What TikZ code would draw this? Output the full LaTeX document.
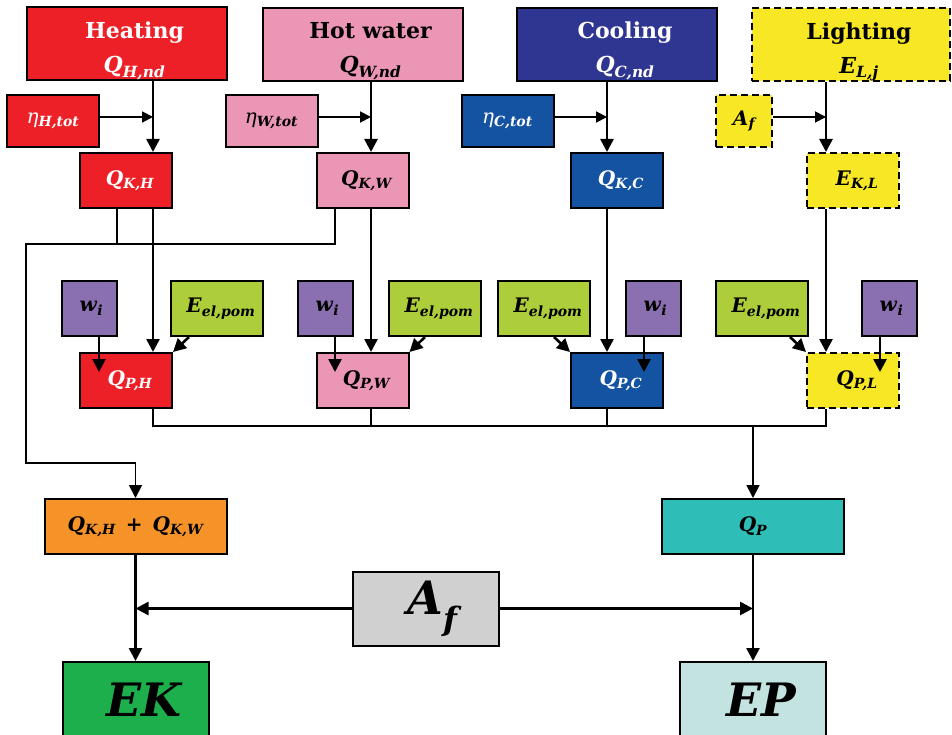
\documentclass[tikz,border=0pt]{standalone}
\usepackage{fontspec}
\setmainfont{DejaVu Serif}
\usetikzlibrary{arrows.meta,positioning,calc}
\definecolor{heatred}{RGB}{237,32,39}
\definecolor{waterpink}{RGB}{234,150,180}
\definecolor{coolnavy}{RGB}{46,54,146}
\definecolor{coolblue}{RGB}{20,82,162}
\definecolor{lightyellow}{RGB}{247,231,36}
\definecolor{wpurple}{RGB}{138,112,176}
\definecolor{elgreen}{RGB}{174,205,58}
\definecolor{sumorange}{RGB}{245,147,40}
\definecolor{qpteal}{RGB}{46,190,183}
\definecolor{afgray}{RGB}{208,208,208}
\definecolor{ekgreen}{RGB}{28,175,75}
\definecolor{eplight}{RGB}{194,227,223}
% symbol with subscript, in the current (bold) font
\newcommand{\lbl}[2]{\textit{#1}\textsubscript{\itshape #2}}
% two-line title, a little to the right
\newcommand{\twoline}[2]{\hspace*{16pt}\rule{0pt}{30pt}#1\\[10pt]\hspace*{16pt}#2}
\tikzset{
  box/.style={draw,line width=2pt,inner sep=0pt,align=center,
    font=\fontsize{20}{22}\selectfont\bfseries},
  title/.style={box,minimum width=200pt,minimum height=73pt,
    font=\fontsize{22}{24}\selectfont\bfseries},
  eta/.style={box,minimum width=92pt,minimum height=52pt},
  kbox/.style={box,minimum width=92pt,minimum height=55pt,
    execute at begin node={\hspace*{8pt}}},
  wbox/.style={box,fill=wpurple,minimum width=55pt,minimum height=55pt,
    execute at begin node={\hspace*{4pt}}},
  elbox/.style={box,fill=elgreen,minimum width=92pt,minimum height=55pt,
    execute at begin node={\hspace*{8pt}}},
  sumbox/.style={box,minimum width=182pt,minimum height=55pt},
  bigbox/.style={box,minimum width=146pt,minimum height=74pt,
    font=\fontsize{46}{50}\selectfont\bfseries},
  dashbox/.style={dash pattern=on 7pt off 4pt},
  arr/.style={line width=2.6pt,-{Triangle[length=13pt,width=13pt]}},
  thinarr/.style={line width=1.8pt,-{Triangle[length=11pt,width=11pt]}},
  bus/.style={line width=1.8pt},
  busarr/.style={bus,-{Triangle[length=13pt,width=13pt]}}
}

\begin{document}
\begin{tikzpicture}[x=1pt,y=-1pt]
\useasboundingbox (0,0) rectangle (952,735);
% columns of the main arrows
\coordinate (colH) at (153,0);
\coordinate (colW) at (371,0);
\coordinate (colC) at (607,0);
\coordinate (colL) at (826,0);
% needs
\node[title,fill=heatred,text=white] (ndH) at (126.5,44) {\twoline{Heating}{\lbl{Q}{H,nd}}};
\node[title,fill=waterpink] (ndW) at (362.5,44.5) {\twoline{Hot water}{\lbl{Q}{W,nd}}};
\node[title,fill=coolnavy,text=white] (ndC) at (617,44.5) {\twoline{Cooling}{\lbl{Q}{C,nd}}};
\node[title,dashbox,fill=lightyellow,minimum width=198pt] (ndL) at (851,45) {\twoline{Lighting}{\lbl{E}{L,j}}};
% efficiencies
\node[eta,fill=heatred,text=white] (etaH) at (53,121) {\textit{\mdseries η}\textsubscript{\itshape H,tot}};
\node[eta,fill=waterpink] (etaW) at (271.5,121) {\textit{\mdseries η}\textsubscript{\itshape W,tot}};
\node[eta,fill=coolblue,text=white] (etaC) at (507.5,121) {\textit{\mdseries η}\textsubscript{\itshape C,tot}};
\node[box,dashbox,fill=lightyellow,minimum width=56pt,minimum height=52pt] (afL) at (744,121) {\lbl{A}{f}};
% delivered
\node[kbox,fill=heatred,text=white] (kH) at (126,180.5) {\lbl{Q}{K,H}};
\node[kbox,fill=waterpink] (kW) at (362.5,180.5) {\lbl{Q}{K,W}};
\node[kbox,fill=coolblue,text=white] (kC) at (617,180.5) {\lbl{Q}{K,C}};
\node[kbox,dashbox,fill=lightyellow] (kL) at (853,180.5) {\lbl{E}{K,L}};
% weights and auxiliary energy
\node[wbox] (wH) at (89.5,308.5) {\lbl{w}{i}};
\node[elbox] (eH) at (217,308.5) {\lbl{E}{el,pom}};
\node[wbox] (wW) at (325.5,308.5) {\lbl{w}{i}};
\node[elbox] (eW) at (435,308.5) {\lbl{E}{el,pom}};
\node[elbox] (eC) at (544,308.5) {\lbl{E}{el,pom}};
\node[wbox] (wC) at (653.5,308.5) {\lbl{w}{i}};
\node[elbox] (eL) at (762,308.5) {\lbl{E}{el,pom}};
\node[wbox] (wL) at (889.5,308.5) {\lbl{w}{i}};
% primary
\node[kbox,fill=heatred,text=white] (pH) at (126,380.5) {\lbl{Q}{P,H}};
\node[kbox,fill=waterpink] (pW) at (362.5,380.5) {\lbl{Q}{P,W}};
\node[kbox,fill=coolblue,text=white] (pC) at (617,380.5) {\lbl{Q}{P,C}};
\node[kbox,dashbox,fill=lightyellow] (pL) at (853,380.5) {\lbl{Q}{P,L}};
% sums and results
\node[sumbox,fill=sumorange] (kHW) at (135.5,526.5) {\lbl{Q}{K,H}\enspace+\enspace\lbl{Q}{K,W}};
\node[sumbox,fill=qpteal] (qP) at (753,526.5) {\lbl{Q}{P}};
\node[bigbox,fill=afgray] (afB) at (426,608.5) {\hspace*{14pt}\lbl{A}{f}};
\node[bigbox,fill=ekgreen,minimum height=75pt] (EK) at (135.5,699.5) {\hspace*{18pt}\textit{EK}};
\node[bigbox,fill=eplight,minimum height=75pt] (EP) at (753,699.5) {\hspace*{18pt}\textit{EP}};
% arrows down the columns
\foreach \c in {H,W,C,L}{
  \draw[arr] (nd\c.south -| col\c) -- (k\c.north -| col\c);
  \draw[arr] (k\c.south -| col\c) -- (p\c.north -| col\c);
}
\foreach \c/\src in {H/etaH,W/etaW,C/etaC,L/afL}{
  \draw[thinarr] ([yshift=4pt]\src.east) -- ([yshift=4pt]\src.east -| col\c);
}
\foreach \c/\dx in {H/9.5,W/9.5,C/-9.5,L/-9.5}{
  \draw[arr] ([xshift=\dx pt]w\c.south) -- ++(0,35);
}
\draw[arr] ([xshift=19pt]eH.south west) -- (pH.north east);
\draw[arr] ([xshift=37pt]eW.south west) -- (pW.north east);
\draw[arr] ([xshift=-37pt]eC.south east) -- (pC.north west);
\draw[arr] ([xshift=-19pt]eL.south east) -- (pL.north west);
% heat and water to EK
\coordinate (jK) at (26,244);
\coordinate (jE) at (26,463);
\draw[bus] ([xshift=-9pt]kH.south) -- ([xshift=-9pt]kH.south |- jK);
\draw[busarr] ([xshift=-27.5pt]kW.south) |- (jK) -- (jE) -| (kHW.north);
% primary energy bus
\coordinate (jP) at (753,426);
\draw[bus] (pH.south -| colH) |- (jP) -| (pL.south -| colL);
\draw[bus] (pW.south -| colW) -- (colW |- jP);
\draw[bus] (pC.south -| colC) -- (colC |- jP);
\draw[busarr] (jP) -- (qP.north);
% floor area
\draw[arr] (kHW.south) -- (EK.north);
\draw[arr] (qP.south) -- (EP.north);
\draw[arr] (afB.west) -- (afB.west -| kHW.south);
\draw[arr] (afB.east) -- (afB.east -| qP.south);
\end{tikzpicture}
\end{document}
